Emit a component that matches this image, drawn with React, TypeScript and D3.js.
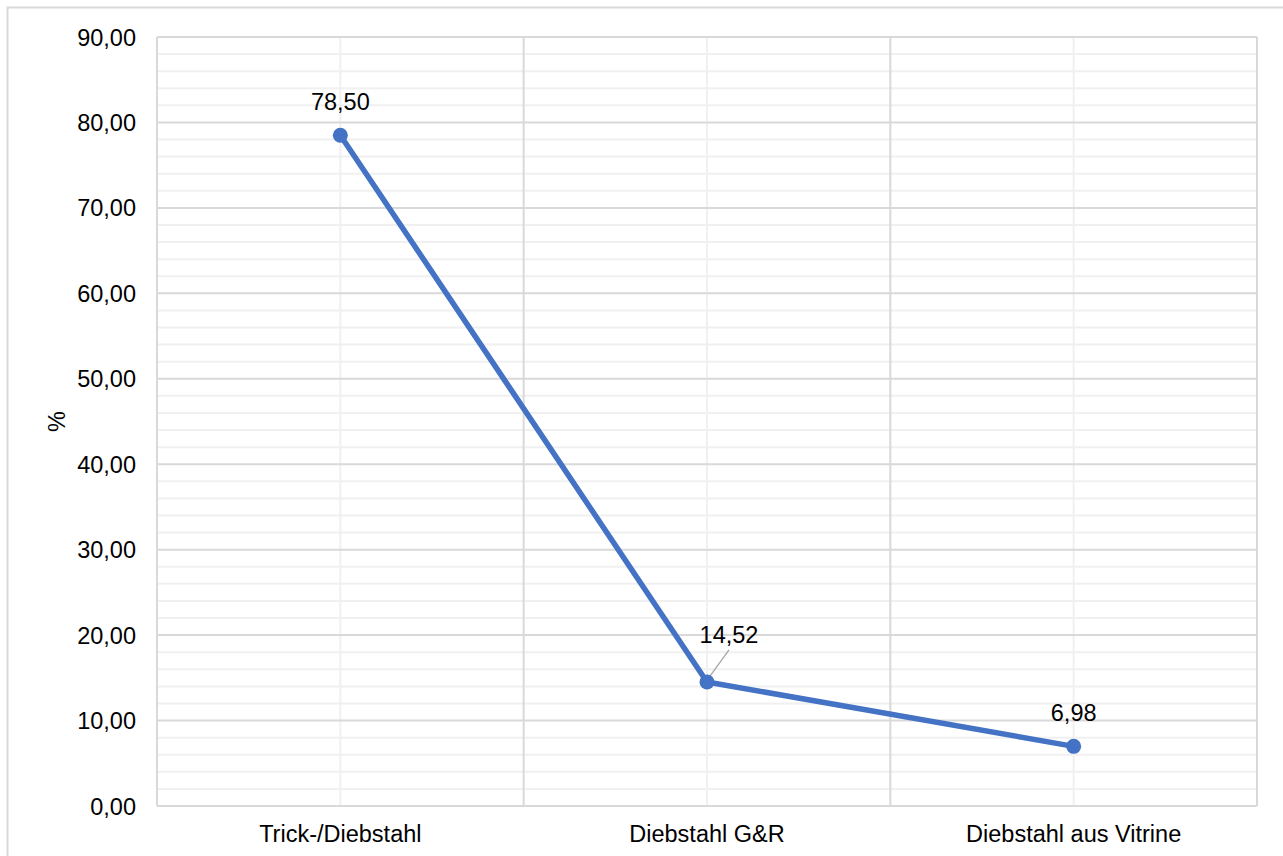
import React from "react";
import * as d3 from "d3";

const categories = ["Trick-/Diebstahl", "Diebstahl G&R", "Diebstahl aus Vitrine"];
const values = [78.5, 14.52, 6.98];
const yTicks = [0, 10, 20, 30, 40, 50, 60, 70, 80, 90];
const yMinorTicks = d3.range(0, 91, 2);
const yLabel = "%";

const W = 1283;
const H = 856;
const plot = { left: 157, right: 1257, top: 37, bottom: 806 };

const fmt = (v: number) => v.toFixed(2).replace(".", ",");

export default function App() {
  const x = d3
    .scaleBand<string>()
    .domain(categories)
    .range([plot.left, plot.right])
    .padding(0);
  const y = d3.scaleLinear().domain([0, 90]).range([plot.bottom, plot.top]);
  const cx = (c: string) => (x(c) as number) + x.bandwidth() / 2;

  const line = d3
    .line<number>()
    .x((_, i) => cx(categories[i]))
    .y((d) => y(d));

  const font = "'Liberation Sans', Arial, sans-serif";
  const fs = 23.5;
  const boundaries = categories.map((c) => x(c) as number).concat([plot.right]);

  return (
    <svg
      width={W}
      height={H}
      style={{ position: "absolute", left: 0, top: 0, background: "#fff" }}
      fontFamily={font}
    >
      <rect x={7.5} y={7.5} width={W + 10} height={H + 10} fill="#fff" stroke="#d9d9d9" strokeWidth={2} />
      {yMinorTicks
        .filter((t) => t % 10 !== 0)
        .map((t) => (
          <line key={"mh" + t} x1={plot.left} x2={plot.right} y1={y(t)} y2={y(t)} stroke="#f0f0f0" strokeWidth={2} />
        ))}
      {categories.map((c) => (
        <line key={"mv" + c} x1={cx(c)} x2={cx(c)} y1={plot.top} y2={plot.bottom} stroke="#f0f0f0" strokeWidth={2} />
      ))}
      {yTicks.map((t) => (
        <line key={"h" + t} x1={plot.left} x2={plot.right} y1={y(t)} y2={y(t)} stroke="#d9d9d9" strokeWidth={2} />
      ))}
      {boundaries.map((b, i) => (
        <line key={"v" + i} x1={b} x2={b} y1={plot.top} y2={plot.bottom} stroke="#d9d9d9" strokeWidth={2} />
      ))}
      {yTicks.map((t) => (
        <text key={"yl" + t} x={136} y={y(t) + 8.5} textAnchor="end" fontSize={fs} fill="#000">
          {fmt(t)}
        </text>
      ))}
      {categories.map((c) => (
        <text key={"xl" + c} x={cx(c)} y={842} textAnchor="middle" fontSize={fs} fill="#000">
          {c}
        </text>
      ))}
      <text transform={`translate(65,${(plot.top + plot.bottom) / 2}) rotate(-90)`} textAnchor="middle" fontSize={fs} fill="#000">
        {yLabel}
      </text>
      <line x1={cx(categories[1]) + 1} y1={y(values[1]) - 3} x2={cx(categories[1]) + 22} y2={y(values[1]) - 32} stroke="#a6a6a6" strokeWidth={1.3} />
      <path d={line(values) || ""} fill="none" stroke="#4472C4" strokeWidth={5.5} strokeLinejoin="round" />
      {values.map((v, i) => (
        <circle key={"pt" + i} cx={cx(categories[i])} cy={y(v)} r={7.5} fill="#4472C4" />
      ))}
      {values.map((v, i) => {
        const dx = i === 1 ? 22 : 0;
        const yy = i === 1 ? y(v) - 39 : y(v) - 25;
        return (
          <text key={"dl" + i} x={cx(categories[i]) + dx} y={yy} textAnchor="middle" fontSize={fs} fill="#000">
            {fmt(v)}
          </text>
        );
      })}
    </svg>
  );
}
